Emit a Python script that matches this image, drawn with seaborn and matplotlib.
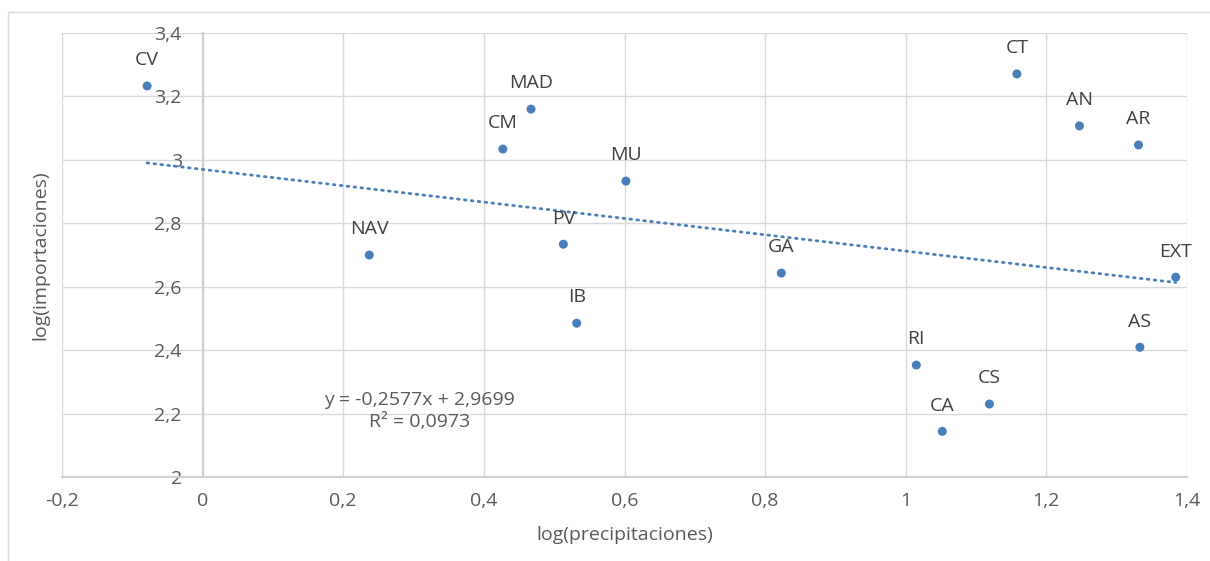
#log(precipitaciones) frente a log(importaciones) por comunidad, con línea de tendencia lineal
import numpy as np
import pandas as pd
import seaborn as sns
import matplotlib.pyplot as plt
from matplotlib.lines import Line2D

regiones = ["CV", "MAD", "CM", "MU", "NAV", "PV", "IB", "GA",
            "CT", "AN", "AR", "EXT", "AS", "RI", "CS", "CA"]
log_precip = [-0.079, 0.467, 0.427, 0.602, 0.237, 0.513, 0.532, 0.823,
              1.158, 1.247, 1.331, 1.384, 1.333, 1.015, 1.119, 1.052]
log_import = [3.233, 3.160, 3.034, 2.933, 2.700, 2.734, 2.485, 2.643,
              3.271, 3.107, 3.047, 2.630, 2.409, 2.353, 2.230, 2.144]

# tendencia indicada en el gráfico
pendiente = -0.2577
intercepto = 2.9699
r2 = 0.0973

x_ticks = [-0.2, 0, 0.2, 0.4, 0.6, 0.8, 1.0, 1.2, 1.4]
y_ticks = [2.0, 2.2, 2.4, 2.6, 2.8, 3.0, 3.2, 3.4]

df = pd.DataFrame({"region": regiones, "x": log_precip, "y": log_import})

def coma(v):
    s = f"{v:g}"
    return s.replace(".", ",")

sns.set_style("white")
plt.rcParams["font.family"] = ["Open Sans", "DejaVu Sans"]

gris = "#595959"
azul = "#4a7ebb"

fig = plt.figure(figsize=(12.10, 5.61), dpi=100)
ax = fig.add_axes([62 / 1210, 1 - 477 / 561, 1125 / 1210, 444 / 561])

# línea de tendencia (punteada)
xs = np.array([df["x"].min(), df["x"].max()])
ax.plot(xs, pendiente * xs + intercepto, color=azul, lw=2.0,
        linestyle=(0, (0.6, 1.9)), dash_capstyle="round", zorder=3)

sns.scatterplot(data=df, x="x", y="y", ax=ax, color=azul, s=42,
                edgecolor="none", zorder=4)

for _, r in df.iterrows():
    ax.annotate(r["region"], (r["x"], r["y"]), xytext=(0, 18.5),
                textcoords="offset points", ha="center", va="center",
                fontsize=14, color="#404040")

ax.text(0.309, 2.208, f"y = {coma(pendiente)}x + {coma(intercepto)}\nR² = {coma(r2)}",
        ha="center", va="center", multialignment="center",
        fontsize=14, color=gris, linespacing=1.25)

ax.set_xlim(-0.2, 1.4)
ax.set_ylim(2.0, 3.4)
ax.set_xticks(x_ticks)
ax.set_yticks(y_ticks)
ax.set_xticklabels([coma(round(v, 1)) for v in x_ticks])
ax.set_yticklabels([coma(round(v, 1)) for v in y_ticks])
ax.tick_params(axis="both", length=0, labelsize=14, colors=gris)
ax.tick_params(axis="x", pad=11)
ax.tick_params(axis="y", pad=15)

ax.grid(True, color="#d9d9d9", lw=1.0)
ax.set_axisbelow(True)
for lado in ["top", "right"]:
    ax.spines[lado].set_visible(False)
ax.spines["left"].set_position(("data", 0))
ax.spines["left"].set_color("#d0d0d0")
ax.spines["left"].set_linewidth(1.5)
ax.spines["bottom"].set_color("#d0d0d0")
ax.spines["bottom"].set_linewidth(1.5)

ax.set_xlabel("log(precipitaciones)", fontsize=14, color=gris)
ax.set_ylabel("log(importaciones)", fontsize=14, color=gris)
ax.xaxis.set_label_coords(0.5, (477 - 535) / 444)
ax.xaxis.label.set_va("center")
ax.yaxis.set_label_coords((40 - 62) / 1125, 0.5)
ax.yaxis.label.set_va("center")

# marco del gráfico
fig.add_artist(Line2D([8 / 1210, 1.0], [1 - 12 / 561, 1 - 12 / 561],
                      color="#d9d9d9", lw=1.0))
fig.add_artist(Line2D([8 / 1210, 8 / 1210], [0.0, 1 - 12 / 561],
                      color="#d9d9d9", lw=1.0))

fig.savefig("out.png", dpi=100)
